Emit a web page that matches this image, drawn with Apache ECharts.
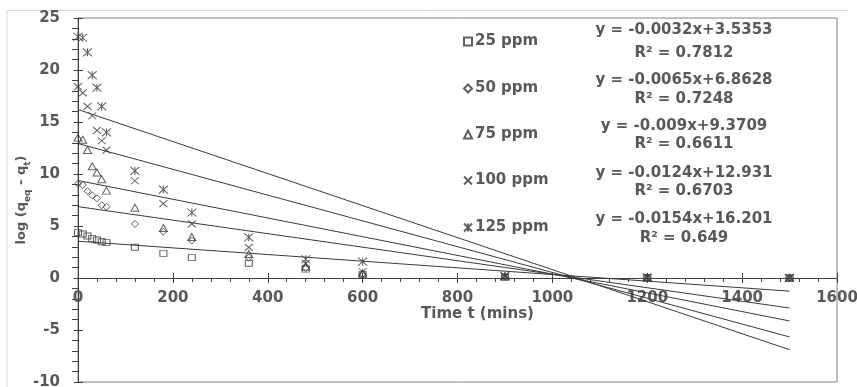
<!DOCTYPE html>
<html>
<head>
<meta charset="utf-8">
<script src="https://cdn.jsdelivr.net/npm/echarts@6/dist/echarts.min.js"></script>
<style>
  html, body { margin: 0; padding: 0; background: #ffffff; }
  #chart { width: 857px; height: 387px; }
</style>
</head>
<body>
<div id="chart"></div>
<script>
// Sampling times (mins)
const times = [0, 10, 20, 30, 40, 50, 60, 120, 180, 240, 360, 480, 600, 900, 1200, 1500];

// log(q_eq - q_t) for each initial concentration
const ppm25  = [4.36, 4.23, 4.04, 3.81, 3.65, 3.49, 3.40, 2.95, 2.37, 1.96, 1.41, 0.85, 0.35, 0.10, 0.05, 0.02];
const ppm50  = [9.05, 8.95, 8.35, 7.95, 7.66, 7.00, 6.85, 5.20, 4.45, 3.60, 1.95, 0.95, 0.40, 0.12, 0.05, 0.02];
const ppm75  = [13.5, 13.3, 12.3, 10.75, 10.15, 9.50, 8.40, 6.75, 4.80, 3.95, 2.30, 1.10, 0.45, 0.15, 0.05, 0.02];
const ppm100 = [18.4, 17.8, 16.5, 15.6, 14.2, 13.2, 12.3, 9.35, 7.15, 5.20, 2.95, 1.40, 0.60, 0.18, 0.05, 0.02];
const ppm125 = [23.2, 23.1, 21.7, 19.5, 18.3, 16.5, 14.0, 10.3, 8.50, 6.30, 3.90, 1.80, 1.57, 0.20, 0.06, 0.02];

const seriesNames = ['25 ppm', '50 ppm', '75 ppm', '100 ppm', '125 ppm'];
const seriesValues = [ppm25, ppm50, ppm75, ppm100, ppm125];

// Linear fits: y = slope * x + intercept
const slopes     = [-0.0032, -0.0065, -0.009, -0.0124, -0.0154];
const intercepts = [3.5353, 6.8628, 9.3709, 12.931, 16.201];
const rSquared   = ['0.7812', '0.7248', '0.6611', '0.6703', '0.649'];
const fitRange   = [0, 1500];

// Axis ranges
const xRange = [0, 1600], xStep = 200;
const yRange = [-10, 25], yStep = 5;

const FONT = '"DejaVu Sans", sans-serif';
const TEXT = '#595959';
const INK = '#3a3a3a';
const AXIS = '#404040';

// Plot box (px inside the 857x387 canvas)
const GRID = { left: 78, right: 20, top: 18, bottom: 5 };
const plotHeight = 387 - GRID.top - GRID.bottom;
// the time axis sits on y = 0 rather than at the bottom of the box
const timeAxisOffset = -plotHeight * (0 - yRange[0]) / (yRange[1] - yRange[0]);

const markerShapes = [
  'rect',
  'diamond',
  'triangle',
  'path://M0,0L10,10M10,0L0,10',
  'path://M0,0L10,10M10,0L0,10M5,0L5,10'
];
const markerSizes = [[7, 6], [7, 7], [8, 7], [8, 7], [9, 8]];

const scatterSeries = seriesNames.map((name, i) => ({
  name,
  type: 'scatter',
  symbol: markerShapes[i],
  symbolSize: markerSizes[i],
  itemStyle: { color: 'rgba(0,0,0,0)', borderColor: INK, borderWidth: 1 },
  data: times.map((t, k) => [t, seriesValues[i][k]]),
  z: 3
}));

const fitSeries = slopes.map((m, i) => ({
  name: seriesNames[i] + ' fit',
  type: 'line',
  showSymbol: false,
  symbol: 'none',
  lineStyle: { color: INK, width: 1 },
  data: fitRange.map(x => [x, m * x + intercepts[i]]),
  z: 2
}));

// Legend rows and equation labels
const rowPpmY = [38, 85, 131, 177, 224];
const rowEqY  = [30, 80, 126, 173, 219];
const rowR2Y  = [53, 99, 144, 191, 238];

const legends = seriesNames.map((name, i) => ({
  data: [name],
  left: 458,
  top: rowPpmY[i] - 9,
  itemWidth: 8,
  itemHeight: 8,
  itemGap: 0,
  textStyle: { fontFamily: FONT, fontWeight: 'bold', fontSize: 15, color: TEXT, padding: [0, 0, 0, -2] }
}));

const eqGraphics = [];
slopes.forEach((m, i) => {
  eqGraphics.push({
    type: 'text', x: 684, y: rowEqY[i],
    style: { text: 'y = ' + m + 'x+' + intercepts[i], font: 'bold 15px ' + FONT, fill: TEXT,
             textAlign: 'center', align: 'center', textVerticalAlign: 'middle', verticalAlign: 'middle' }
  });
  eqGraphics.push({
    type: 'text', x: 684, y: rowR2Y[i],
    style: { text: 'R\u00B2 = ' + rSquared[i], font: 'bold 15px ' + FONT, fill: TEXT,
             textAlign: 'center', align: 'center', textVerticalAlign: 'middle', verticalAlign: 'middle' }
  });
});

const axisLabelStyle = { fontFamily: FONT, fontWeight: 'bold', fontSize: 15, color: TEXT };
const plainNumber = v => String(v);

// Second copy of each axis only carries the inward half of the major ticks
const innerTickAxis = (extra) => Object.assign({
  type: 'value',
  axisLine: { show: false, onZero: false },
  axisTick: { show: true, inside: true, length: 5, lineStyle: { color: AXIS } },
  minorTick: { show: false },
  axisLabel: { show: false },
  splitLine: { show: false }
}, extra);

const option = {
  animation: false,
  backgroundColor: '#ffffff',
  grid: Object.assign({
    show: true, borderColor: '#808080', borderWidth: 1,
    containLabel: false, outerBoundsMode: 'none'
  }, GRID),
  legend: legends,
  xAxis: [
    {
      type: 'value', min: xRange[0], max: xRange[1], interval: xStep,
      position: 'bottom',
      offset: timeAxisOffset,
      axisLine: { onZero: false, lineStyle: { color: AXIS, width: 1 } },
      axisTick: { show: true, length: 5, lineStyle: { color: AXIS } },
      minorTick: { show: true, splitNumber: 5, length: 4, lineStyle: { color: AXIS } },
      splitLine: { show: false },
      axisLabel: Object.assign({ margin: 13, formatter: plainNumber }, axisLabelStyle),
      name: 'Time t (mins)',
      nameLocation: 'middle',
      nameGap: 29,
      nameMoveOverlap: false,
      nameTextStyle: { fontFamily: FONT, fontWeight: 'bold', fontSize: 15, color: TEXT, padding: [0, 0, 0, 40] }
    },
    innerTickAxis({ min: xRange[0], max: xRange[1], interval: xStep, position: 'bottom', offset: timeAxisOffset })
  ],
  yAxis: [
    {
      type: 'value', min: yRange[0], max: yRange[1], interval: yStep,
      position: 'left',
      axisLine: { show: true, onZero: false, lineStyle: { color: AXIS, width: 1 } },
      axisTick: { show: true, length: 4, lineStyle: { color: AXIS } },
      minorTick: { show: true, splitNumber: 5, length: 6, lineStyle: { color: AXIS } },
      splitLine: { show: false },
      axisLabel: Object.assign({ margin: 18, formatter: plainNumber }, axisLabelStyle),
      name: '{a|log (q}{s|eq}{a| - q}{s|t}{a|)}',
      nameLocation: 'middle',
      nameRotate: 90,
      nameGap: 46,
      nameMoveOverlap: false,
      nameTextStyle: {
        rich: {
          a: { fontFamily: FONT, fontWeight: 'bold', fontSize: 13, color: TEXT, lineHeight: 20 },
          s: { fontFamily: FONT, fontWeight: 'bold', fontSize: 9, color: TEXT, lineHeight: 10, verticalAlign: 'bottom' }
        }
      }
    },
    innerTickAxis({ min: yRange[0], max: yRange[1], interval: yStep, position: 'left', offset: 0 })
  ],
  graphic: [
    {
      type: 'polyline', silent: true,
      shape: { points: [[7, 387], [7, 10.5], [848, 10.5]] },
      style: { stroke: '#d9d9d9', lineWidth: 1, fill: null }
    }
  ].concat(eqGraphics),
  series: fitSeries.concat(scatterSeries)
};

const chart = echarts.init(document.getElementById('chart'), null, { renderer: 'canvas' });
chart.setOption(option);
</script>
</body>
</html>
